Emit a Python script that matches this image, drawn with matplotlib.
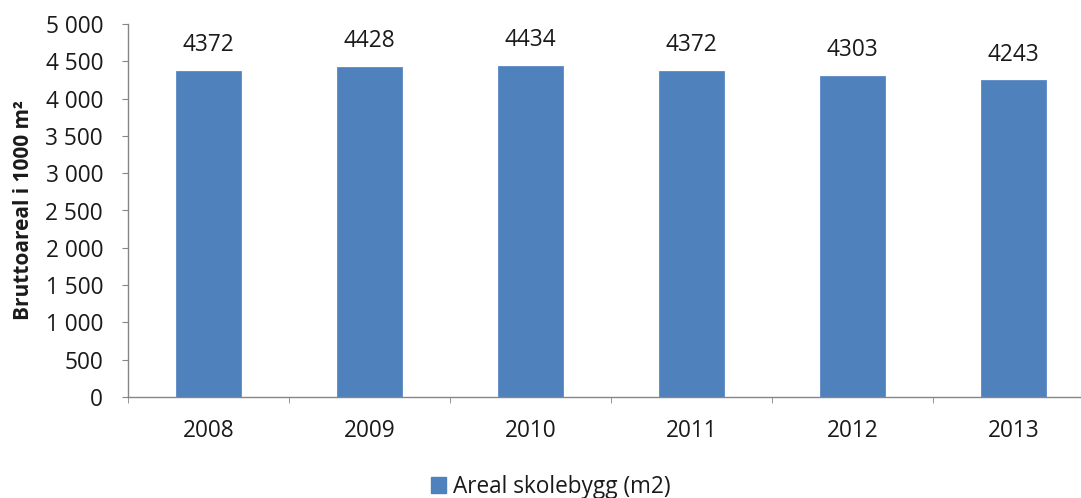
import matplotlib
matplotlib.use("Agg")
import matplotlib.pyplot as plt
from matplotlib.ticker import FuncFormatter, MultipleLocator
from matplotlib.patches import Patch

years = ["2008", "2009", "2010", "2011", "2012", "2013"]
values = [4372, 4428, 4434, 4372, 4303, 4243]
series_name = "Areal skolebygg (m2)"
ylabel = "Bruttoareal i 1000 m²"

plt.rcParams['font.family'] = ['Open Sans', 'DejaVu Sans']

W, H = 1081, 498
fig = plt.figure(figsize=(W / 100, H / 100), dpi=100)
ax = fig.add_axes([128 / W, 1 - 397 / H, 966 / W, 373 / H])

FS = 16.3
bar_color = "#4F81BD"
x = list(range(len(years)))
ax.bar(x, values, width=0.4, color=bar_color, edgecolor="#5A8AC6", linewidth=0.6)

for xi, v in zip(x, values):
    ax.annotate(str(v), (xi, v), xytext=(0, 10), textcoords="offset points",
                ha="center", va="bottom", fontsize=FS, color="#1a1a1a")

ax.set_xlim(-0.5, len(years) - 0.5)
ax.set_ylim(0, 5000)
ax.yaxis.set_major_locator(MultipleLocator(500))
ax.yaxis.set_major_formatter(FuncFormatter(lambda v, p: f"{int(v):,}".replace(",", " ")))

ax.set_xticks(x)
ax.set_xticklabels(years)
ax.set_xticks([i - 0.5 for i in range(len(years) + 1)], minor=True)
ax.tick_params(axis="x", which="major", length=0, pad=16, labelsize=FS, labelcolor="#1a1a1a")
ax.tick_params(axis="x", which="minor", length=4.5, color="#868686", direction="out")
ax.tick_params(axis="y", length=4.5, color="#868686", labelsize=FS, pad=13.5, labelcolor="#1a1a1a")

for s in ["top", "right"]:
    ax.spines[s].set_visible(False)
for s in ["left", "bottom"]:
    ax.spines[s].set_color("#868686")
    ax.spines[s].set_linewidth(1.0)

ax.set_ylabel(ylabel, fontsize=15, fontweight="bold", color="#1a1a1a")
ax.yaxis.set_label_coords((34 - 128) / 966, (397 - 210) / 373)

handle = Patch(facecolor=bar_color, edgecolor=bar_color)
fig.legend([handle], [series_name], loc="center", bbox_to_anchor=(551 / W, 1 - 487 / H),
           frameon=False, fontsize=FS, handlelength=0.65, handleheight=0.65, handletextpad=0.3,
           borderpad=0, labelcolor="#1a1a1a")

fig.savefig("out.png", dpi=100)
